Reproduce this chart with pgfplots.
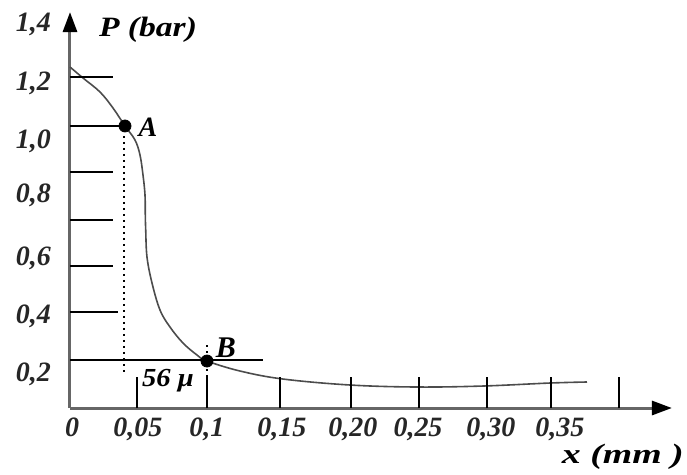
\documentclass[border=0pt]{standalone}
\usepackage{fontspec}
\setmainfont{Liberation Serif}
\usepackage{graphicx}
\usepackage{pgfplots}
\pgfplotsset{compat=1.18}
\usetikzlibrary{arrows.meta}

\begin{document}
\begin{tikzpicture}
\begin{axis}[
    scale only axis,
    width=301pt, height=198pt,
    xmin=0, xmax=0.4388,
    ymin=0.0858, ymax=1.444,
    axis lines=left,
    axis line style={line width=1.5pt, black!60, -{Triangle[width=7pt,length=10pt,black]}},
    xtick={0.00146,0.04957,0.09985,0.1545,0.2063,0.2537,0.3069,0.3572},
    xticklabels={{0},{0,05},{0,1},{0,15},{0,20},{0,25},{0,30},{0,35}},
    ytick={0.2,0.4,0.6,0.8155,1.0,1.2,1.4},
    yticklabels={{0,2},{0,4},{0,6},{0,8},{1,0},{1,2},{1,4}},
    major tick length=0pt,
    tick label style={font=\fontsize{14}{16}\selectfont\bfseries\itshape, text=black!85},
    xticklabel style={yshift=-1.5pt},
    yticklabel style={xshift=-6pt},
    clip=false,
]
% pressure profile
\addplot[smooth, tension=0.6, line width=0.8pt, black!70] coordinates {
    (0,1.2556) (0.00948,1.2178) (0.02187,1.1698) (0.03135,1.1149)
    (0.0401,1.0532) (0.04739,1.0051) (0.05103,0.9537) (0.05322,0.8851)
    (0.05468,0.8165) (0.05490,0.7478) (0.05520,0.6964) (0.05613,0.6038)
    (0.05978,0.5146) (0.06561,0.4220) (0.07290,0.3636) (0.08238,0.3087)
    (0.09258,0.2676) (0.09985,0.2470) (0.1239,0.2127) (0.1553,0.1852)
    (0.2041,0.1647) (0.2530,0.1578) (0.3011,0.1612) (0.3499,0.1715)
    (0.3769,0.1750)
};
% short grid strokes on the P axis
\draw[line width=1pt] (axis cs:0,1.2213) -- (axis cs:0.03135,1.2213);
\draw[line width=1pt] (axis cs:0,1.0532) -- (axis cs:0.0394,1.0532);
\draw[line width=1pt] (axis cs:0,0.8954) -- (axis cs:0.03135,0.8954);
\draw[line width=1pt] (axis cs:0,0.7307) -- (axis cs:0.03135,0.7307);
\draw[line width=1pt] (axis cs:0,0.5729) -- (axis cs:0.03135,0.5729);
\draw[line width=1pt] (axis cs:0,0.4151) -- (axis cs:0.0350,0.4151);
\draw[line width=1pt] (axis cs:0,0.2504) -- (axis cs:0.1407,0.2504);
% short strokes on the x axis
\draw[line width=1pt] (axis cs:0.04884,0.0858) -- (axis cs:0.04884,0.1921);
\draw[line width=1pt] (axis cs:0.09985,0.0858) -- (axis cs:0.09985,0.1921);
\draw[line width=1pt] (axis cs:0.1531,0.0858) -- (axis cs:0.1531,0.1921);
\draw[line width=1pt] (axis cs:0.2048,0.0858) -- (axis cs:0.2048,0.1921);
\draw[line width=1pt] (axis cs:0.2544,0.0858) -- (axis cs:0.2544,0.1921);
\draw[line width=1pt] (axis cs:0.3040,0.0858) -- (axis cs:0.3040,0.1921);
\draw[line width=1pt] (axis cs:0.3506,0.0858) -- (axis cs:0.3506,0.1921);
\draw[line width=1pt] (axis cs:0.4002,0.0858) -- (axis cs:0.4002,0.1921);
% dotted guides
\draw[line width=1pt, dotted] (axis cs:0.0394,1.04) -- (axis cs:0.0394,0.2058);
\draw[line width=1pt, dotted] (axis cs:0.09985,0.3019) -- (axis cs:0.09985,0.1921);
% points A and B
\addplot[only marks, mark=*, mark size=3pt, black] coordinates {(0.0401,1.0532) (0.09985,0.2470)};
\node[font=\fontsize{14}{16}\selectfont\bfseries\itshape] at (axis cs:0.0568,1.0497) {A};
\node[font=\fontsize{15}{17}\selectfont\bfseries\itshape] at (axis cs:0.1137,0.2916) {B};
\node[font=\fontsize{13}{15}\selectfont\bfseries\itshape] at (axis cs:0.0714,0.1784) {\scalebox{1.1}[1]{56 μ}};
\node[anchor=west, font=\fontsize{14}{16}\selectfont\bfseries\itshape] at (axis cs:0.0160,1.3825) {\scalebox{1.2}[1]{P (bar)}};
\node[font=\fontsize{14}{16}\selectfont\bfseries\itshape] at (axis cs:0.4030,-0.0830) {\scalebox{1.35}[1]{x (mm )}};
\coordinate (bl) at (axis cs:-0.05103,-0.1407);
\coordinate (tr) at (axis cs:0.4498,1.4854);
\end{axis}
\pgfresetboundingbox
\path (bl) rectangle (tr);
\end{tikzpicture}
\end{document}
